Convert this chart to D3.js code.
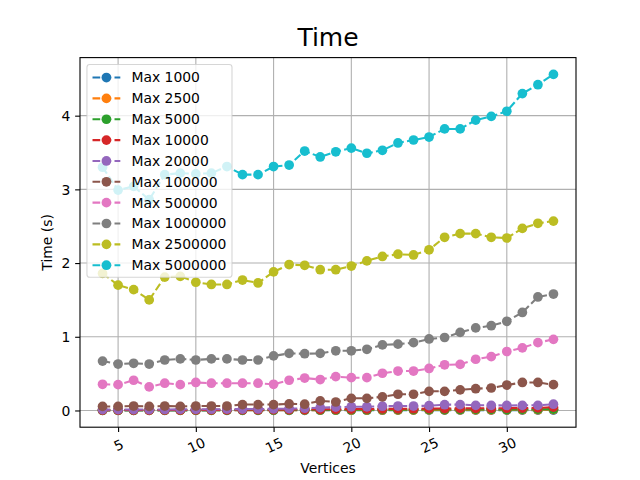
<!DOCTYPE html>
<html>
<head>
<meta charset="utf-8">
<script src="https://cdn.jsdelivr.net/npm/d3@7"></script>
<style>
  body { margin: 0; background: #fff; }
  svg { display: block; font-family: "DejaVu Sans", sans-serif; }
</style>
</head>
<body>
<div id="chart"></div>
<script>
// values
var vertices = [4, 5, 6, 7, 8, 9, 10, 11, 12, 13, 14, 15, 16, 17, 18, 19, 20, 21, 22, 23, 24, 25, 26, 27, 28, 29, 30, 31, 32, 33];
var seriesNames = ["Max 1000", "Max 2500", "Max 5000", "Max 10000", "Max 20000", "Max 100000", "Max 500000", "Max 1000000", "Max 2500000", "Max 5000000"];
var max1000 = [0.001, 0.001, 0.001, 0.001, 0.001, 0.001, 0.001, 0.002, 0.002, 0.002, 0.002, 0.002, 0.002, 0.002, 0.003, 0.003, 0.003, 0.003, 0.003, 0.004, 0.004, 0.004, 0.004, 0.004, 0.005, 0.005, 0.005, 0.005, 0.005, 0.006];
var max2500 = [0.002, 0.002, 0.002, 0.002, 0.003, 0.003, 0.003, 0.003, 0.004, 0.004, 0.004, 0.004, 0.005, 0.005, 0.005, 0.006, 0.006, 0.006, 0.007, 0.007, 0.007, 0.008, 0.008, 0.008, 0.009, 0.009, 0.009, 0.01, 0.01, 0.011];
var max5000 = [0.003, 0.003, 0.003, 0.004, 0.004, 0.004, 0.005, 0.005, 0.005, 0.006, 0.006, 0.007, 0.007, 0.008, 0.008, 0.009, 0.01, 0.01, 0.011, 0.011, 0.012, 0.013, 0.013, 0.014, 0.015, 0.015, 0.012, 0.016, 0.017, 0.018];
var max10000 = [0.005, 0.005, 0.006, 0.006, 0.007, 0.007, 0.008, 0.008, 0.009, 0.01, 0.01, 0.011, 0.012, 0.013, 0.015, 0.017, 0.019, 0.02, 0.021, 0.022, 0.024, 0.025, 0.026, 0.028, 0.029, 0.03, 0.031, 0.033, 0.035, 0.045];
var max20000 = [0.012, 0.012, 0.013, 0.013, 0.014, 0.015, 0.016, 0.017, 0.018, 0.019, 0.02, 0.022, 0.025, 0.03, 0.038, 0.045, 0.05, 0.05, 0.058, 0.06, 0.06, 0.065, 0.078, 0.08, 0.07, 0.07, 0.068, 0.07, 0.07, 0.085];
var max100000 = [0.055, 0.055, 0.06, 0.055, 0.06, 0.055, 0.06, 0.06, 0.06, 0.08, 0.08, 0.08, 0.09, 0.085, 0.13, 0.115, 0.165, 0.165, 0.185, 0.22, 0.22, 0.26, 0.26, 0.28, 0.295, 0.305, 0.345, 0.38, 0.38, 0.35];
var max500000 = [0.355, 0.35, 0.41, 0.32, 0.37, 0.35, 0.38, 0.37, 0.37, 0.37, 0.37, 0.355, 0.41, 0.44, 0.42, 0.46, 0.445, 0.445, 0.505, 0.535, 0.535, 0.57, 0.62, 0.625, 0.695, 0.73, 0.8, 0.85, 0.92, 0.965];
var max1000000 = [0.67, 0.63, 0.64, 0.63, 0.685, 0.7, 0.685, 0.7, 0.7, 0.685, 0.685, 0.74, 0.775, 0.77, 0.775, 0.81, 0.81, 0.83, 0.89, 0.9, 0.92, 0.97, 0.99, 1.06, 1.12, 1.15, 1.21, 1.33, 1.54, 1.58];
var max2500000 = [1.86, 1.7, 1.64, 1.5, 1.81, 1.82, 1.74, 1.71, 1.71, 1.77, 1.73, 1.88, 1.98, 1.97, 1.91, 1.91, 1.96, 2.03, 2.09, 2.12, 2.11, 2.18, 2.35, 2.4, 2.4, 2.35, 2.34, 2.47, 2.54, 2.57];
var max5000000 = [3.3, 2.99, 3.04, 2.86, 3.2, 3.22, 3.21, 3.22, 3.31, 3.2, 3.2, 3.31, 3.33, 3.52, 3.44, 3.51, 3.56, 3.49, 3.53, 3.63, 3.67, 3.71, 3.82, 3.82, 3.94, 3.99, 4.06, 4.3, 4.42, 4.56];
var xTicks = [5, 10, 15, 20, 25, 30];
var yTicks = [0, 1, 2, 3, 4];

var allSeries = [max1000, max2500, max5000, max10000, max20000, max100000, max500000, max1000000, max2500000, max5000000];
var colors = ["#1f77b4", "#ff7f0e", "#2ca02c", "#d62728", "#9467bd", "#8c564b", "#e377c2", "#7f7f7f", "#bcbd22", "#17becf"];

var W = 640, H = 480;
var axL = 80, axR = 576, axT = 57.6, axB = 427.2;
var markR = 4.86;

var svg = d3.select('#chart').append('svg').attr('width', W).attr('height', H);

// matplotlib-like 5% margins
var xMin = d3.min(vertices), xMax = d3.max(vertices);
var xPad = (xMax - xMin) * 0.05;
var flat = [].concat.apply([], allSeries);
var yMin = d3.min(flat), yMax = d3.max(flat);
var yPad = (yMax - yMin) * 0.05;

var x = d3.scaleLinear().domain([xMin - xPad, xMax + xPad]).range([axL, axR]);
var y = d3.scaleLinear().domain([yMin - yPad, yMax + yPad]).range([axB, axT]);

// grid
var grid = svg.append('g');
grid.selectAll('line.gx').data(xTicks).enter().append('line')
  .attr('x1', function(d) { return x(d); }).attr('x2', function(d) { return x(d); })
  .attr('y1', axT).attr('y2', axB)
  .attr('stroke', '#b0b0b0').attr('stroke-width', 1.1);
grid.selectAll('line.gy').data(yTicks).enter().append('line')
  .attr('y1', function(d) { return y(d); }).attr('y2', function(d) { return y(d); })
  .attr('x1', axL).attr('x2', axR)
  .attr('stroke', '#b0b0b0').attr('stroke-width', 1.1);

// series
var line = d3.line()
  .x(function(d, i) { return x(vertices[i]); })
  .y(function(d) { return y(d); });

var plot = svg.append('g');
allSeries.forEach(function(vals, si) {
  plot.append('path')
    .attr('d', line(vals))
    .attr('fill', 'none')
    .attr('stroke', colors[si])
    .attr('stroke-width', 2.08)
    .attr('stroke-dasharray', '7.7,3.3');
  plot.selectAll(null).data(vals).enter().append('circle')
    .attr('cx', function(d, i) { return x(vertices[i]); })
    .attr('cy', function(d) { return y(d); })
    .attr('r', markR)
    .attr('fill', colors[si]);
});

// axes
var xAxis = svg.append('g').attr('transform', 'translate(0,' + axB + ')')
  .call(d3.axisBottom(x).tickValues(xTicks).tickSize(4.86).tickPadding(4.86).tickFormat(d3.format('d')));
var yAxis = svg.append('g').attr('transform', 'translate(' + axL + ',0)')
  .call(d3.axisLeft(y).tickValues(yTicks).tickSize(4.86).tickPadding(4.86).tickFormat(d3.format('d')));
[xAxis, yAxis].forEach(function(a) {
  a.select('.domain').remove();
  a.selectAll('.tick line').attr('stroke', '#000').attr('stroke-width', 1.1);
  a.selectAll('.tick text').attr('font-size', 13.9).attr('fill', '#000')
    .attr('font-family', '"DejaVu Sans", sans-serif');
});
xAxis.selectAll('.tick text')
  .attr('y', 0).attr('dy', null)
  .attr('dominant-baseline', 'central')
  .attr('transform', 'translate(0,18) rotate(-25)');
yAxis.selectAll('.tick text').attr('dy', '0.35em');

// frame
svg.append('rect')
  .attr('x', axL).attr('y', axT)
  .attr('width', axR - axL).attr('height', axB - axT)
  .attr('fill', 'none').attr('stroke', '#000').attr('stroke-width', 1.1);

// labels
svg.append('text').attr('x', (axL + axR) / 2).attr('y', 46)
  .attr('text-anchor', 'middle').attr('font-size', 25).attr('fill', '#000').text('Time');
svg.append('text').attr('x', (axL + axR) / 2).attr('y', 473)
  .attr('text-anchor', 'middle').attr('font-size', 13.9).attr('fill', '#000').text('Vertices');
svg.append('text').attr('transform', 'translate(52,' + ((axT + axB) / 2) + ') rotate(-90)')
  .attr('text-anchor', 'middle').attr('font-size', 13.9).attr('fill', '#000').text('Time (s)');

// legend
var fs = 13.9;
var lx = axL + 0.5 * fs, ly = axT + 0.5 * fs;
var pad = 0.4 * fs, handleLen = 2 * fs, textPad = 0.8 * fs, rowH = fs + 0.5 * fs;
var legend = svg.append('g');
var box = legend.append('rect')
  .attr('x', lx).attr('y', ly).attr('rx', 2.8).attr('ry', 2.8)
  .attr('fill', 'rgba(255,255,255,0.8)').attr('stroke', 'rgba(204,204,204,0.8)').attr('stroke-width', 1.1);
var maxW = 0;
seriesNames.forEach(function(name, i) {
  var cy = ly + pad + fs / 2 + i * rowH + 0.5;
  var hx = lx + pad;
  legend.append('line')
    .attr('x1', hx).attr('x2', hx + handleLen).attr('y1', cy).attr('y2', cy)
    .attr('stroke', colors[i]).attr('stroke-width', 2.08).attr('stroke-dasharray', '7.7,3.3');
  legend.append('circle').attr('cx', hx + handleLen / 2).attr('cy', cy).attr('r', markR).attr('fill', colors[i]);
  var t = legend.append('text')
    .attr('x', hx + handleLen + textPad).attr('y', cy).attr('dy', '0.35em')
    .attr('font-size', fs).attr('fill', '#000').text(name);
  maxW = Math.max(maxW, t.node().getComputedTextLength());
});
box.attr('width', pad + handleLen + textPad + maxW + pad)
  .attr('height', 2 * pad + seriesNames.length * fs + (seriesNames.length - 1) * 0.5 * fs);
</script>
</body>
</html>
